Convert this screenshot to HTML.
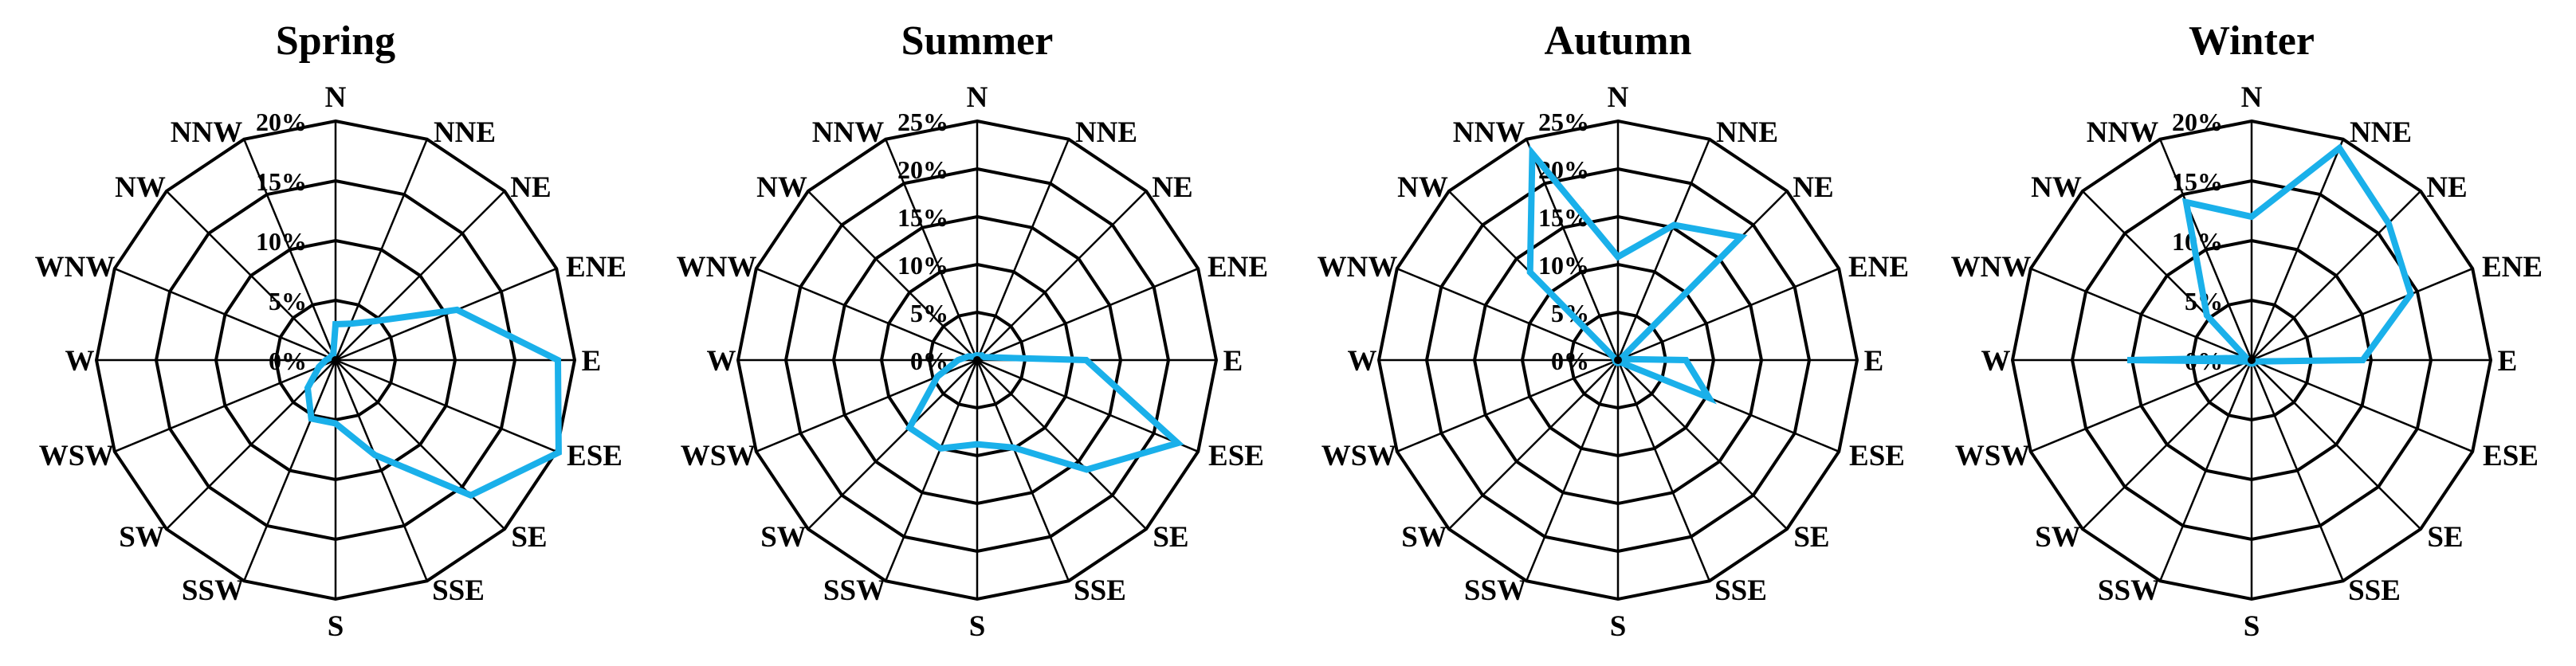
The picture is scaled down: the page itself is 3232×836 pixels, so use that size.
<!DOCTYPE html>
<html><head><meta charset="utf-8">
<style>
html,body{margin:0;padding:0;background:#fff;width:3232px;height:836px;overflow:hidden}
svg text{font-family:"Liberation Serif",serif;font-weight:bold;fill:#000}
</style></head><body>
<svg id="s" xmlns="http://www.w3.org/2000/svg" width="3232" height="836" viewBox="0 0 3232 836"></svg>
<script>
var dirs=["N","NNE","NE","ENE","E","ESE","SE","SSE","S","SSW","SW","WSW","W","WNW","NW","NNW"];
var off=[[0,-331],[162,-287],[245,-218],[327,-118],[321,0],[325,119],[243,221],[154,288],[0,333]];
for(var j=7;j>=1;j--){off.push([-off[j][0],off[j][1]]);}
var charts=[
 {t:"Spring",cx:421,cy:452,max:20,d:[3,3.3,4.6,11,18.6,20.2,16,8.6,5.3,5.3,3.3,1.5,0.8,0.5,0.5,0.5]},
 {t:"Summer",cx:1226,cy:452,max:25,d:[0.5,0.5,0.7,0.8,11.4,22.7,16.2,9.9,8.8,10,10,4.5,2,1,0.5,0.5]},
 {t:"Autumn",cx:2030,cy:452,max:25,d:[10.8,15.3,18.2,0.3,7.1,10.3,0.3,0.3,0.3,0.3,0.3,0.3,0.3,0.3,13,23.4]},
 {t:"Winter",cx:2825,cy:452,max:20,d:[12,19.2,16.2,14.4,9.3,0.3,0.3,0.3,0.3,0.3,0.3,0.3,10.4,0.5,5.3,14.3]}
];
var R=300,h="";
function pt(cx,cy,r,i){var a=i*Math.PI/8;return [cx+r*Math.sin(a),cy-r*Math.cos(a)];}
charts.forEach(function(c){
  var n=c.max/5;
  h+='<text x="'+c.cx+'" y="68" font-size="52" text-anchor="middle">'+c.t+'</text>';
  for(var i=0;i<16;i++){var p=pt(c.cx,c.cy,R,i);h+='<line x1="'+c.cx+'" y1="'+c.cy+'" x2="'+p[0].toFixed(1)+'" y2="'+p[1].toFixed(1)+'" stroke="#000" stroke-width="2.5"/>';}
  for(var k=1;k<=n;k++){var r=R*k/n,ps=[];for(var i=0;i<16;i++){var p=pt(c.cx,c.cy,r,i);ps.push(p[0].toFixed(1)+','+p[1].toFixed(1));}
    h+='<polygon points="'+ps.join(' ')+'" fill="none" stroke="#000" stroke-width="4"/>';}
  for(var k=0;k<=n;k++){var y=c.cy-R*k/n;h+='<text x="'+(c.cx-36)+'" y="'+(y+12)+'" font-size="32" text-anchor="end">'+(k*5)+'%</text>';}
  for(var i=0;i<16;i++){
    h+='<text x="'+(c.cx+off[i][0])+'" y="'+(c.cy+off[i][1]+13)+'" font-size="37" text-anchor="middle">'+dirs[i]+'</text>';}
  var ps=[];for(var i=0;i<16;i++){var p=pt(c.cx,c.cy,R*c.d[i]/c.max,i);ps.push(p[0].toFixed(1)+','+p[1].toFixed(1));}
  h+='<polygon points="'+ps.join(' ')+'" fill="none" stroke="#1ab0ea" stroke-width="8" stroke-linejoin="miter"/>';
  h+='<circle cx="'+c.cx+'" cy="'+c.cy+'" r="5" fill="#000"/>';
});
document.getElementById("s").innerHTML=h;
</script>
</body></html>
